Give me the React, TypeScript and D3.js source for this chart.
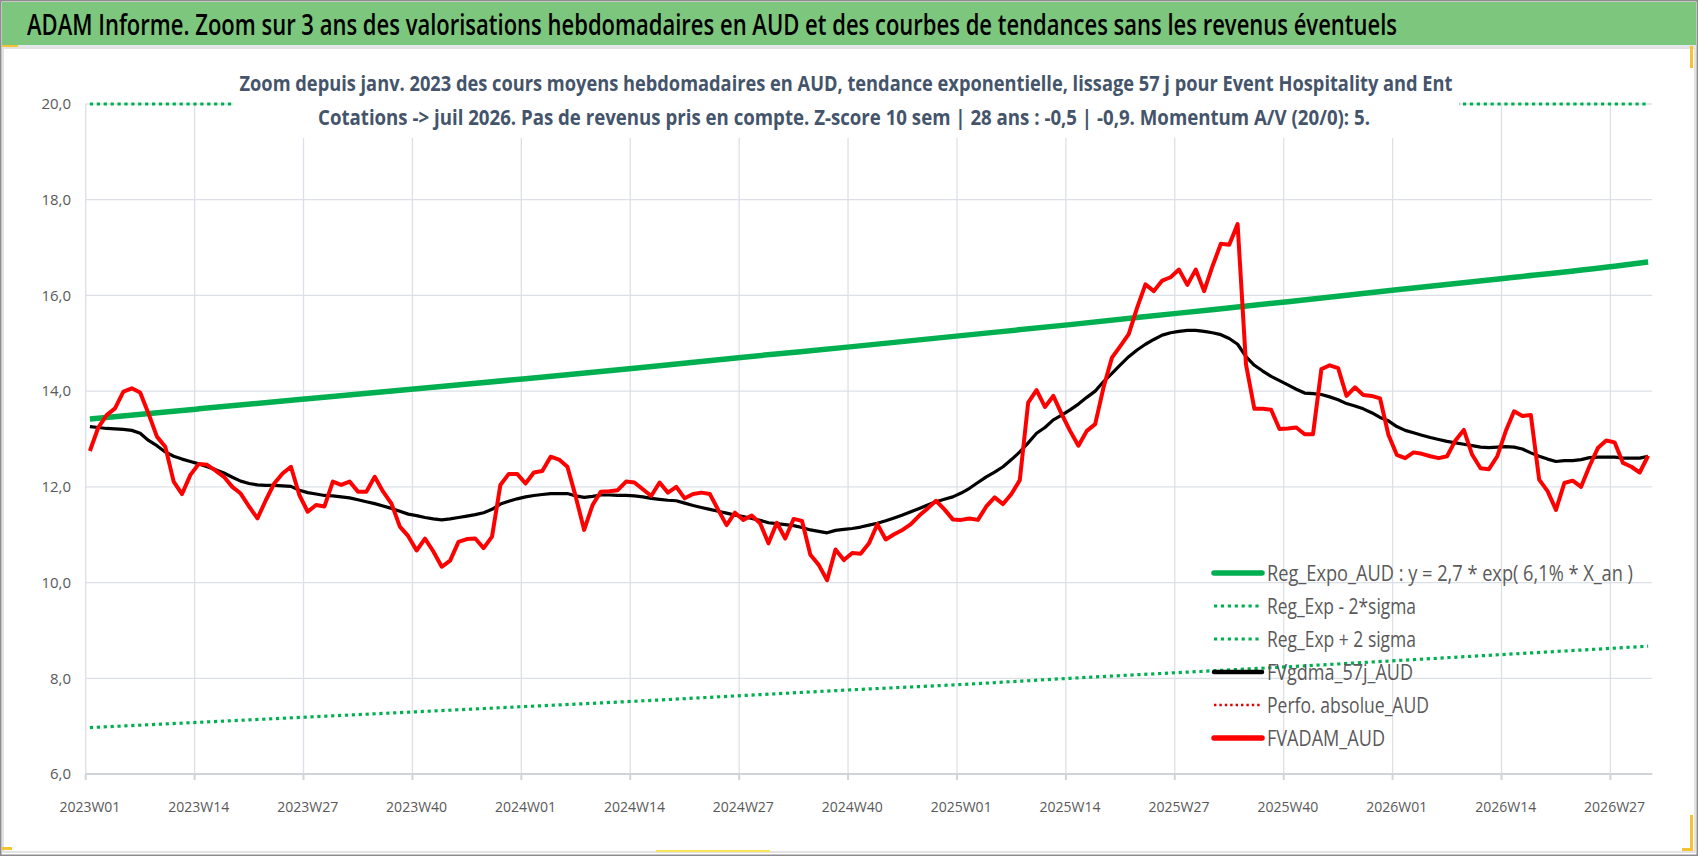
import React from 'react';
import { scaleBand, scaleLinear, line, curveMonotoneX } from 'd3';

// weekly averages, AUD
const fvadamAud = [
  12.75, 13.24, 13.5, 13.64, 13.99, 14.06, 13.97, 13.53, 13.05, 12.84, 12.11, 11.85, 12.25,
  12.48, 12.46, 12.34, 12.21, 12.0, 11.86, 11.59, 11.34, 11.72, 12.07, 12.28, 12.42, 11.83,
  11.48, 11.62, 11.59, 12.11, 12.04, 12.11, 11.9, 11.9, 12.21, 11.9, 11.65, 11.17, 10.97,
  10.67, 10.92, 10.65, 10.33, 10.46, 10.85, 10.91, 10.92, 10.72, 10.96, 12.04, 12.27, 12.27,
  12.07, 12.3, 12.33, 12.63, 12.57, 12.42, 11.79, 11.1, 11.62, 11.9, 11.91, 11.93, 12.11,
  12.09, 11.95, 11.81, 12.09, 11.88, 12.0, 11.76, 11.85, 11.88, 11.85, 11.52, 11.2, 11.46,
  11.31, 11.4, 11.24, 10.82, 11.25, 10.92, 11.33, 11.29, 10.58, 10.37, 10.05, 10.69, 10.47,
  10.62, 10.6, 10.82, 11.22, 10.9, 11.01, 11.1, 11.22, 11.4, 11.55, 11.71, 11.53, 11.32,
  11.31, 11.34, 11.31, 11.59, 11.78, 11.64, 11.85, 12.14, 13.76, 14.02, 13.67, 13.9, 13.52,
  13.17, 12.86, 13.17, 13.31, 14.08, 14.7, 14.94, 15.19, 15.74, 16.23, 16.09, 16.31, 16.38,
  16.54, 16.22, 16.54, 16.09, 16.61, 17.08, 17.06, 17.49, 14.56, 13.63, 13.63, 13.61, 13.21,
  13.22, 13.24, 13.1, 13.1, 14.46, 14.54, 14.48, 13.9, 14.08, 13.92, 13.9, 13.85, 13.09,
  12.67, 12.6, 12.72, 12.69, 12.64, 12.6, 12.64, 12.97, 13.19, 12.67, 12.39, 12.37, 12.64,
  13.16, 13.58, 13.48, 13.5, 12.15, 11.91, 11.52, 12.08, 12.13, 12.0, 12.43, 12.81, 12.97,
  12.93, 12.5, 12.42, 12.3, 12.65,
];

// 57-day smoothing
const fvgdma57j = [
  13.26, 13.24, 13.22, 13.21, 13.2, 13.18, 13.12, 12.97, 12.86, 12.73, 12.64, 12.58, 12.53,
  12.48, 12.42, 12.36, 12.29, 12.2, 12.12, 12.07, 12.04, 12.03, 12.03, 12.02, 12.01, 11.93,
  11.88, 11.85, 11.82, 11.81, 11.79, 11.77, 11.73, 11.69, 11.65, 11.6, 11.55, 11.49, 11.43,
  11.4, 11.36, 11.33, 11.31, 11.33, 11.36, 11.39, 11.42, 11.46, 11.53, 11.64, 11.7, 11.75,
  11.79, 11.82, 11.84, 11.86, 11.86, 11.86, 11.81, 11.78, 11.8, 11.83, 11.83, 11.82, 11.82,
  11.81, 11.79, 11.76, 11.74, 11.72, 11.71, 11.66, 11.61, 11.57, 11.53, 11.49, 11.45, 11.41,
  11.38, 11.34, 11.3, 11.25, 11.23, 11.21, 11.19, 11.15, 11.1, 11.07, 11.04, 11.09, 11.11,
  11.13, 11.16, 11.2, 11.24, 11.29, 11.35, 11.41, 11.48, 11.55, 11.62, 11.69, 11.74, 11.79,
  11.87, 11.97, 12.09, 12.21, 12.31, 12.42, 12.57, 12.73, 12.92, 13.12, 13.24, 13.4, 13.5,
  13.61, 13.73, 13.87, 14.0, 14.2, 14.37, 14.55, 14.72, 14.86, 14.98, 15.08, 15.17, 15.22,
  15.25, 15.27, 15.27, 15.25, 15.22, 15.18, 15.1, 14.98, 14.72, 14.54, 14.42, 14.31, 14.22,
  14.13, 14.04, 13.96, 13.95, 13.93, 13.88, 13.82, 13.74, 13.69, 13.63, 13.55, 13.45, 13.38,
  13.26, 13.18, 13.13, 13.08, 13.03, 12.99, 12.95, 12.92, 12.89, 12.86, 12.83, 12.82, 12.83,
  12.84, 12.83, 12.79, 12.71, 12.64, 12.58, 12.53, 12.55, 12.55, 12.57, 12.61, 12.62, 12.62,
  12.62, 12.6, 12.6, 12.6, 12.64,
];

const years = [2023, 2024, 2025, 2026];
const weeks: string[] = [];
years.forEach((yr) => {
  for (let w = 1; w <= 52; w++) weeks.push(`${yr}W${String(w).padStart(2, '0')}`);
});
const categories = weeks.slice(0, fvadamAud.length);

const tickLabels = [
  '2023W01', '2023W14', '2023W27', '2023W40', '2024W01', '2024W14', '2024W27', '2024W40',
  '2025W01', '2025W14', '2025W27', '2025W40', '2026W01', '2026W14', '2026W27',
];

// regression curves read at the quarterly ticks + last week
const trendWeeks = [...tickLabels, '2026W31'];
const regExpo = [13.42, 13.63, 13.84, 14.05, 14.26, 14.48, 14.71, 14.93, 15.16, 15.39, 15.63, 15.87, 16.12, 16.36, 16.61, 16.7];
const regLow = [6.97, 7.08, 7.19, 7.3, 7.41, 7.52, 7.64, 7.76, 7.87, 8.0, 8.12, 8.24, 8.37, 8.5, 8.63, 8.67];
const regHigh = [20, 20, 20, 20, 20, 20, 20, 20, 20, 20, 20, 20, 20, 20, 20, 20];

const yTicks = [6, 8, 10, 12, 14, 16, 18, 20];

const legendItems = [
  { label: 'Reg_Expo_AUD : y = 2,7 * exp( 6,1% *  X_an )', color: '#00B050', width: 5.5, dash: '', len: 366 },
  { label: 'Reg_Exp - 2*sigma', color: '#00B050', width: 3.2, dash: '3.2 3.7', len: 149 },
  { label: 'Reg_Exp + 2 sigma', color: '#00B050', width: 3.2, dash: '3.2 3.7', len: 149 },
  { label: 'FVgdma_57j_AUD', color: '#000000', width: 4.5, dash: '', len: 146 },
  { label: 'Perfo. absolue_AUD', color: '#E00000', width: 2.4, dash: '2.4 3', len: 162 },
  { label: 'FVADAM_AUD', color: '#FF0000', width: 5.5, dash: '', len: 118 },
];

const FONT = "'Open Sans', 'Liberation Sans', sans-serif";
const W = 1698;
const H = 856;
const plot = { left: 85.7, right: 1652.3, top: 104, bottom: 774 };

// narrow text: horizontally squeezed so it looks like the condensed original font
function NarrowText({ x, y, len, sx, anchor = 'start', children, ...rest }: any) {
  return (
    <text
      transform={`translate(${x},${y}) scale(${sx},1)`}
      textAnchor={anchor}
      textLength={len / sx}
      lengthAdjust="spacingAndGlyphs"
      {...rest}
    >
      {children}
    </text>
  );
}

export default function App() {
  const x = scaleBand<string>().domain(categories).range([plot.left, plot.right]);
  const cx = (c: string) => (x(c) as number) + x.bandwidth() / 2;
  const y = scaleLinear().domain([6, 20]).range([plot.bottom, plot.top]);

  const weekLine = line<number>()
    .x((_, i) => cx(categories[i]))
    .y((v) => y(v));
  const trendLine = line<number>()
    .x((_, i) => cx(trendWeeks[i]))
    .y((v) => y(v))
    .curve(curveMonotoneX);

  const gridX = tickLabels.map((t) => x(t) as number);

  return (
    <svg
      width={W}
      height={H}
      style={{ position: 'absolute', left: 0, top: 0, background: '#fff' }}
      fontFamily={FONT}
    >
      <rect x={0} y={0} width={W} height={H} fill="#fff" />
      {/* title bar */}
      <rect x={2} y={2} width={W - 4} height={43} fill="#7DC67D" />
      <line x1={2} x2={W - 2} y1={46} y2={46} stroke="#E3E6EA" strokeWidth={2} />
      <NarrowText x={27} y={35} len={1370} sx={0.74} fontSize={28} fontWeight={600} fill="#000">
        ADAM Informe. Zoom sur 3 ans des valorisations hebdomadaires en AUD et des courbes de tendances sans les revenus éventuels
      </NarrowText>
      <rect x={3} y={48} width={W - 6} height={H - 52} fill="none" stroke="#D9D9D9" strokeWidth={1.5} />

      {/* grid */}
      <g stroke="#DCE0E6" strokeWidth={1.3}>
        {yTicks.map((t) => (
          <line key={t} x1={plot.left} x2={plot.right} y1={y(t)} y2={y(t)} />
        ))}
        {gridX.map((gx, i) => (
          <line key={i} x1={gx} x2={gx} y1={plot.top} y2={plot.bottom} />
        ))}
      </g>
      <g stroke="#D0D4DA" strokeWidth={2}>
        <line x1={plot.left} x2={plot.right} y1={plot.bottom} y2={plot.bottom} />
        {gridX.map((gx, i) => (
          <line key={i} x1={gx} x2={gx} y1={plot.bottom} y2={plot.bottom + 6} />
        ))}
      </g>

      {/* y labels */}
      {yTicks.map((t) => (
        <text key={t} x={71} y={y(t)} dy="0.35em" textAnchor="end" fontSize={15} fill="#595959">
          {t.toFixed(1).replace('.', ',')}
        </text>
      ))}
      {/* x labels */}
      {tickLabels.map((t) => (
        <NarrowText key={t} x={cx(t)} y={812} len={61} sx={0.85} anchor="middle" fontSize={15} fill="#595959">
          {t}
        </NarrowText>
      ))}

      {/* regression curves */}
      <path d={trendLine(regHigh) || ''} fill="none" stroke="#00B050" strokeWidth={3.2} strokeDasharray="3.2 3.7" />
      <path d={trendLine(regLow) || ''} fill="none" stroke="#00B050" strokeWidth={3.2} strokeDasharray="3.2 3.7" />
      <path d={trendLine(regExpo) || ''} fill="none" stroke="#00B050" strokeWidth={5.5} />

      {/* subtitle box */}
      <rect x={233} y={56} width={1226} height={82} fill="#fff" />
      <g fontWeight="bold" fill="#44546A" fontSize={22}>
        <NarrowText x={846} y={91} len={1213} sx={0.75} anchor="middle">
          Zoom depuis janv. 2023 des cours moyens hebdomadaires en AUD, tendance exponentielle, lissage 57 j pour Event Hospitality and Ent
        </NarrowText>
        <NarrowText x={844} y={125} len={1052} sx={0.72} anchor="middle">
          Cotations -&gt; juil 2026. Pas de revenus pris en compte. Z-score 10 sem | 28 ans : -0,5 | -0,9. Momentum A/V (20/0): 5.
        </NarrowText>
      </g>

      {/* price lines */}
      <path d={weekLine(fvgdma57j) || ''} fill="none" stroke="#000" strokeWidth={3.2} strokeLinejoin="round" />
      <path d={weekLine(fvadamAud) || ''} fill="none" stroke="#FF0000" strokeWidth={4} strokeLinejoin="round" />

      {/* legend */}
      {legendItems.map((d, i) => {
        const ly = 573 + i * 33;
        return (
          <g key={d.label}>
            <line
              x1={1214}
              x2={1262}
              y1={ly}
              y2={ly}
              stroke={d.color}
              strokeWidth={d.width}
              strokeDasharray={d.dash || undefined}
              strokeLinecap={d.dash ? 'butt' : 'round'}
            />
            <NarrowText x={1267} y={ly + 7.7} len={d.len} sx={0.72} fontSize={22} fill="#595959">
              {d.label}
            </NarrowText>
          </g>
        );
      })}

      {/* frame and selection marks */}
      <rect x={0.75} y={0.75} width={W - 1.5} height={H - 1.5} fill="none" stroke="#8C8C8C" strokeWidth={1.5} />
      <g fill="#F5C232">
        <rect x={2} y={847} width={10} height={3} />
        <rect x={656} y={850} width={114} height={2} fill="#F7E65A" />
        <rect x={1690} y={815} width={3} height={36} />
        <rect x={1682} y={848} width={11} height={3} />
        <rect x={1690} y={46} width={3} height={22} />
        <rect x={2} y={45} width={16} height={2} />
      </g>
    </svg>
  );
}
